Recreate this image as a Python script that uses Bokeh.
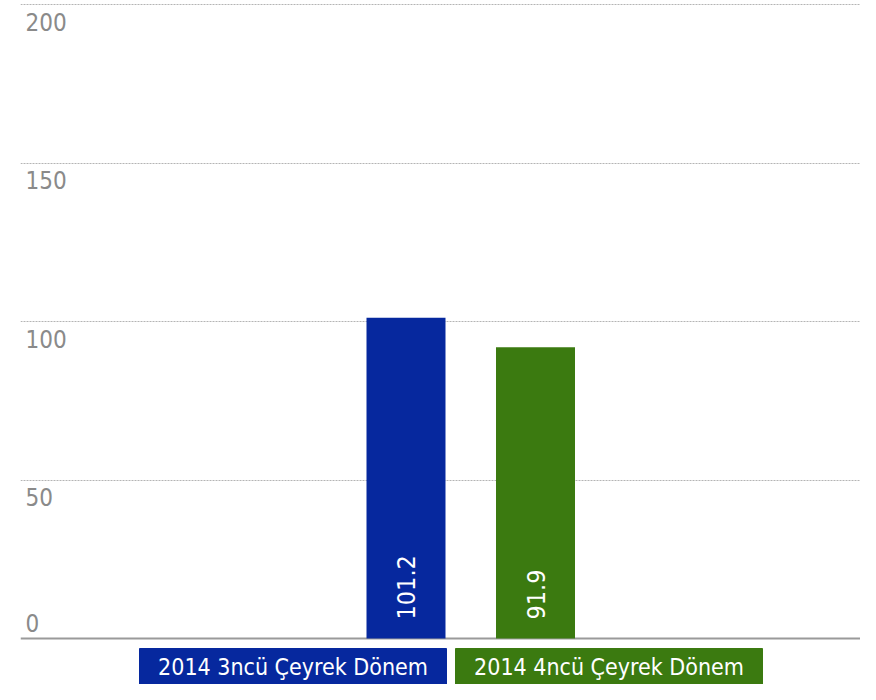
from math import pi
from bokeh.plotting import figure
from bokeh.models import ColumnDataSource, Range1d, FixedTicker
from bokeh.core.properties import value
from bokeh.embed import file_html
from bokeh.resources import INLINE

categories = ["2014 3ncü Çeyrek Dönem", "2014 4ncü Çeyrek Dönem"]
values = [101.2, 91.9]
colors = ["#06289e", "#3b7a10"]
y_ticks = [0, 50, 100, 150, 200]

FONT = "DejaVu Sans Condensed"

W, H = 860, 684
LEFT = 20
# pixel layout helpers (frame starts at x=LEFT, covers full height)
PX_PER_X = 129.5
X0_PX = 405.5
Y200_PX, Y0_PX = 4, 638
PX_PER_Y = (Y0_PX - Y200_PX) / 200.0


def px_to_x(px):
    return 1 + (px - X0_PX) / PX_PER_X


def px_to_y(py):
    return (Y0_PX - py) / PX_PER_Y


xs = [i + 1 for i in range(len(categories))]

p = figure(width=W, height=H, output_backend="svg", toolbar_location=None,
           x_range=Range1d(px_to_x(LEFT), px_to_x(W)),
           y_range=Range1d(px_to_y(H), px_to_y(0)),
           min_border_left=LEFT, min_border_right=0, min_border_top=0, min_border_bottom=0)
p.outline_line_color = None
p.background_fill_color = "white"
p.border_fill_color = "white"
p.xaxis.visible = False
p.yaxis.visible = False
p.xgrid.visible = False
p.ygrid.ticker = FixedTicker(ticks=[t for t in y_ticks if t > 0])
p.ygrid.grid_line_color = "#b4b4b4"
p.ygrid.grid_line_dash = "2 1"
p.ygrid.grid_line_width = 1

# baseline axis line
p.hspan(y=[0], line_color="#9a9a9a", line_width=2)

src = ColumnDataSource(dict(x=xs, top=values, color=colors,
                            label=[f"{v:.1f}" for v in values],
                            base=[0] * len(values)))
p.vbar(x="x", top="top", bottom=0, width=0.61, fill_color="color", line_color=None, source=src)
p.text(x="x", y="base", text="label", source=src, angle=pi / 2,
       text_align="left", text_baseline="middle", y_offset=-19,
       text_color="white", text_font=value(FONT), text_font_size="25px")

# y tick labels inside the plot area
tick_src = ColumnDataSource(dict(
    x=[p.x_range.start] * len(y_ticks), y=y_ticks, t=[str(t) for t in y_ticks],
    off=[17 if t > 0 else -16 for t in y_ticks]))
p.text(x="x", y="y", text="t", source=tick_src, x_offset=5, y_offset="off",
       text_baseline="middle", text_align="left", text_color="#8a8a8a",
       text_font=value(FONT), text_font_size="24px")

# legend boxes below the axis
leg_src = ColumnDataSource(dict(
    x=[px_to_x(292.5), px_to_x(608.5)], y=[px_to_y(666)] * 2,
    t=categories, color=colors))
p.rect(x="x", y="y", width=307, height=36, width_units="screen", height_units="screen",
       fill_color="color", line_color="color", source=leg_src)
p.text(x="x", y="y", text="t", source=leg_src, text_align="center", text_baseline="middle",
       text_color="white", text_font=value(FONT), text_font_size="23px")

open("out.html", "w").write(file_html(p, INLINE))
